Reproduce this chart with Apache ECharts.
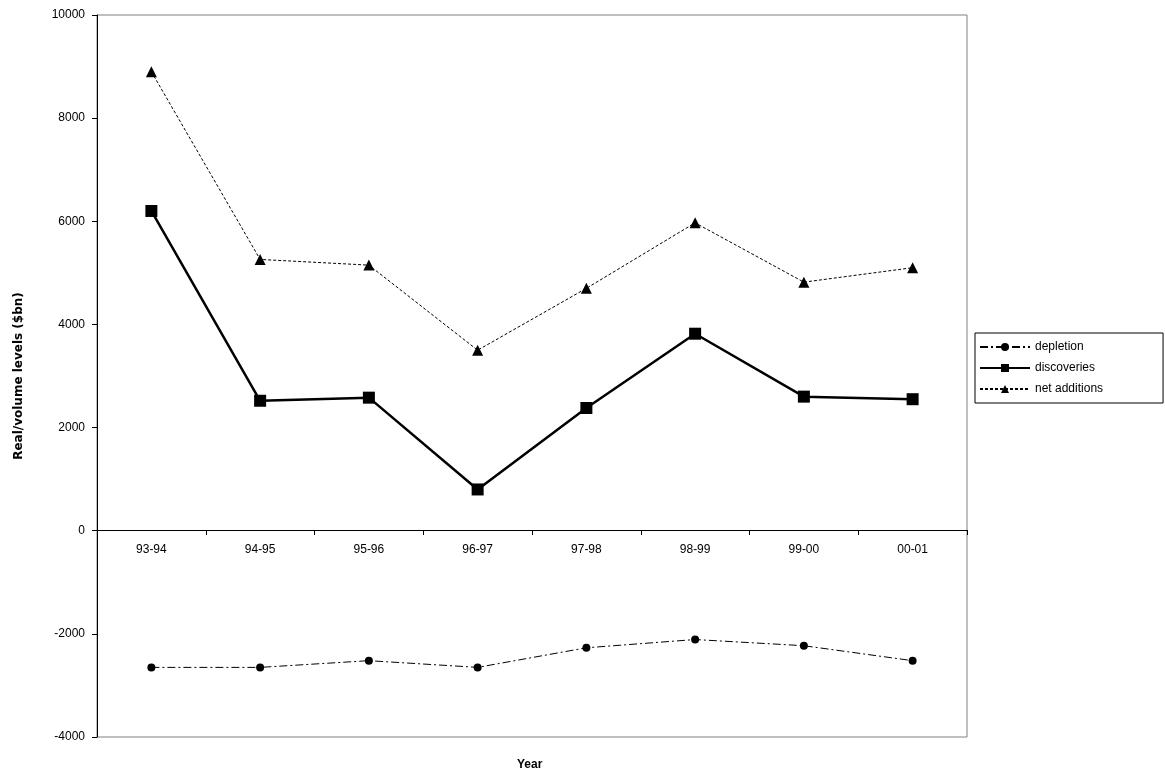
<!DOCTYPE html>
<html><head><meta charset="utf-8">
<script src="https://cdn.jsdelivr.net/npm/echarts@6/dist/echarts.min.js"></script>
<style>html,body{margin:0;background:#fff}#c{width:1165px;height:774px}</style>
</head><body><div id="c"></div>
<script>
var years=['93-94','94-95','95-96','96-97','97-98','98-99','99-00','00-01'];
var depletion=[-2650,-2650,-2520,-2650,-2270,-2110,-2230,-2520];
var discoveries=[6200,2520,2580,800,2380,3820,2600,2550];
var netAdditions=[8900,5260,5150,3500,4700,5970,4820,5100];

var chart=echarts.init(document.getElementById('c'));
var f='Arial, "Liberation Sans", sans-serif';
chart.setOption({
  animation:false,
  textStyle:{fontFamily:f},
  grid:{left:97,right:198,top:15,bottom:37,show:true,borderColor:'#808080',borderWidth:1},
  legend:{
    orient:'vertical',left:975,top:333,itemWidth:50,itemHeight:10,itemGap:9,
    borderColor:'#000',borderWidth:1,borderRadius:0,padding:[8,60,8,4],
    textStyle:{fontSize:12,color:'#000',fontFamily:f},
    data:['depletion','discoveries','net additions']
  },
  xAxis:{
    type:'category',data:years,offset:-207,
    axisLine:{onZero:false,lineStyle:{color:'#000'}},
    axisTick:{show:true,length:5},
    axisLabel:{color:'#000',fontSize:12,margin:14}
  },
  yAxis:{
    type:'value',min:-4000,max:10000,interval:2000,
    axisLine:{show:true,lineStyle:{color:'#000'}},
    axisTick:{show:true,length:5},
    splitLine:{show:false},
    axisLabel:{color:'#000',fontSize:12,margin:12,formatter:function(v){return String(v);}},
    name:'Real/volume levels ($bn)',nameLocation:'middle',nameGap:72,
    nameTextStyle:{fontWeight:'bold',fontSize:12,color:'#000',fontFamily:'"DejaVu Sans", Verdana, sans-serif'}
  },
  graphic:[{type:'text',left:517,top:759,style:{text:'Year',font:'bold 12px '+f,fill:'#000'}}],
  series:[
    {name:'depletion',type:'line',data:depletion,symbol:'circle',symbolSize:8,
     itemStyle:{color:'#000'},lineStyle:{color:'#000',width:1,type:[8,3,2,3]}},
    {name:'discoveries',type:'line',data:discoveries,symbol:'rect',symbolSize:12,
     itemStyle:{color:'#000'},lineStyle:{color:'#000',width:2.5}},
    {name:'net additions',type:'line',data:netAdditions,symbol:'triangle',symbolSize:11,
     itemStyle:{color:'#000'},lineStyle:{color:'#000',width:1,type:[3,2]}}
  ]
});
</script></body></html>
